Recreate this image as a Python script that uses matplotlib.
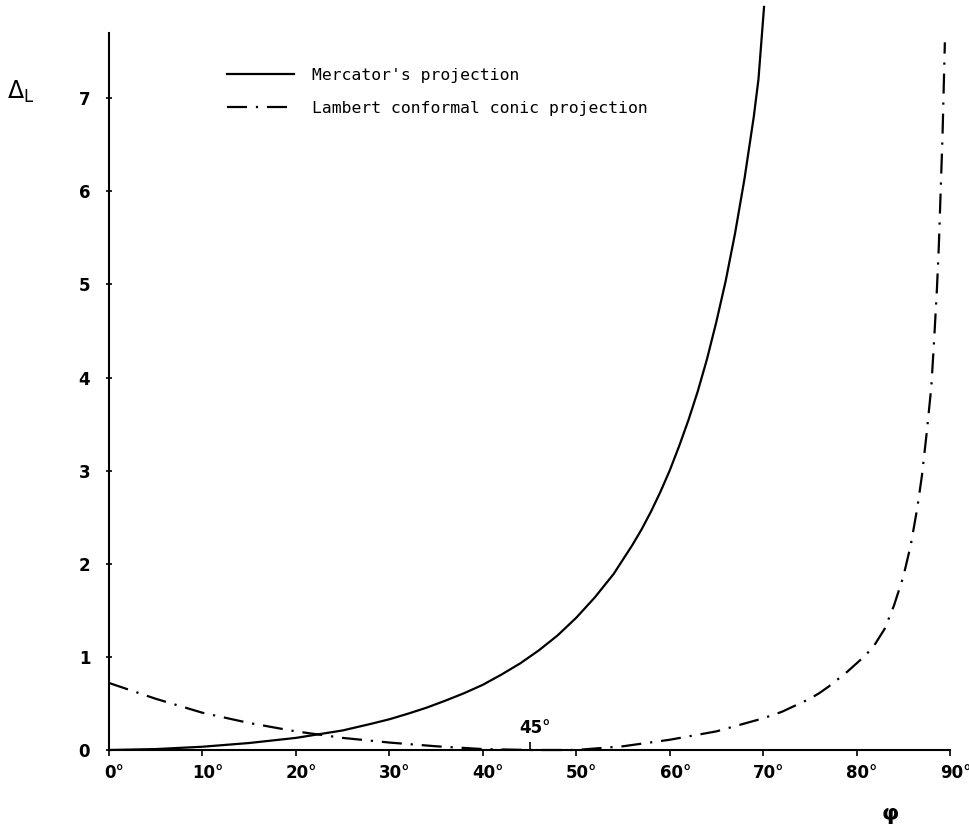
import numpy as np
import matplotlib.pyplot as plt
from matplotlib.transforms import ScaledTranslation

# latitude (deg) and distortion values
phi_merc = [0, 5, 10, 15, 20, 25, 28, 30, 32, 34, 36, 38, 40, 42, 44, 46, 48, 50, 52, 54,
            56, 57, 58, 59, 60, 61, 62, 63, 64, 65, 66, 67, 68, 69, 69.5, 70.1]
d_merc = [0, 0.01, 0.035, 0.075, 0.13, 0.21, 0.28, 0.33, 0.39, 0.455, 0.53, 0.61, 0.70,
          0.81, 0.93, 1.07, 1.23, 1.42, 1.64, 1.89, 2.2, 2.37, 2.56, 2.77, 3.0, 3.26, 3.54,
          3.85, 4.2, 4.6, 5.04, 5.55, 6.13, 6.8, 7.2, 7.98]

phi_lamb = [0, 5, 10, 15, 20, 25, 30, 35, 40, 45, 50, 55, 60, 65, 70, 72, 75, 76, 77, 78,
            79, 80, 81, 82, 83, 84, 85, 85.8, 86.5, 87, 87.5, 88, 88.3, 88.6, 88.8, 89.0,
            89.2, 89.45]
d_lamb = [0.72, 0.55, 0.40, 0.29, 0.20, 0.13, 0.08, 0.04, 0.01, 0.0, 0.0, 0.04, 0.11, 0.20,
          0.34, 0.41, 0.55, 0.61, 0.68, 0.76, 0.84, 0.93, 1.02, 1.14, 1.30, 1.55, 1.86, 2.2,
          2.6, 2.95, 3.4, 3.9, 4.4, 4.95, 5.4, 6.0, 6.6, 7.6]

xticks = [0, 10, 20, 30, 40, 50, 60, 70, 80, 90]
yticks = [0, 1, 2, 3, 4, 5, 6, 7]

fig = plt.figure(figsize=(9.7, 8.25), dpi=100)
ax = fig.add_axes([109/970, 75/825, 841/970, 717/825])

ax.plot(phi_merc, d_merc, '-k', lw=1.6, clip_on=False, label="Mercator's projection")
ax.plot(phi_lamb, d_lamb, color='k', lw=1.6, dashes=(9, 4, 1, 4), clip_on=False,
        label='Lambert conformal conic projection')

ax.set_xlim(0, 90)
ax.set_ylim(0, 7.7)
for s in ['top', 'right']:
    ax.spines[s].set_visible(False)
ax.spines['left'].set_linewidth(1.5)
ax.spines['bottom'].set_linewidth(1.5)

ax.set_xticks(xticks)
ax.set_xticklabels([f'{t}°' for t in xticks])
ax.set_yticks(yticks)
ax.set_yticklabels([str(t) for t in yticks])
ax.tick_params(axis='both', labelsize=12, width=1.2)
ax.tick_params(axis='x', direction='out', length=4, pad=6)
ax.tick_params(axis='y', direction='inout', length=5, pad=11)
for lab in ax.get_xticklabels() + ax.get_yticklabels():
    lab.set_fontweight('bold')
for lab in ax.get_xticklabels():
    lab.set_transform(lab.get_transform() + ScaledTranslation(4/72, 0, fig.dpi_scale_trans))

# 45 degree marker
ax.set_xticks([45], minor=True)
ax.tick_params(axis='x', which='minor', direction='in', length=6, width=1.2)
ax.text(45, 0.18, '45°', ha='center', va='baseline', fontsize=12, fontweight='bold',
        transform=ax.transData + ScaledTranslation(4/72, 0, fig.dpi_scale_trans))

fig.text(7/970, 1 - 99/825, r'$\Delta_{\mathrm{L}}$', fontsize=17, fontweight='bold')
fig.text(890/970, 1 - 820/825, 'φ', fontsize=16, fontweight='bold', ha='center')

ax.legend(loc='upper left', bbox_to_anchor=(227/970, 1 - 68/825),
          bbox_transform=fig.transFigure, frameon=False, borderpad=0, borderaxespad=0,
          handlelength=4.1, handletextpad=1.1, labelspacing=1.1,
          prop={'family': 'DejaVu Sans Mono', 'size': 11.8})

fig.savefig('out.png', dpi=100)
